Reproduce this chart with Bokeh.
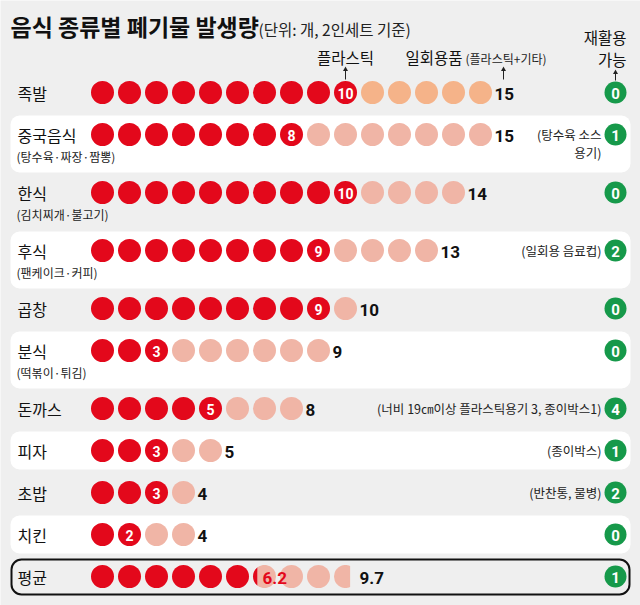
import math
from bokeh.plotting import figure
from bokeh.models import ColumnDataSource, Range1d, BoxAnnotation
from bokeh.core.properties import value
from bokeh.embed import file_html
from bokeh.resources import INLINE

# data
categories = ["족발", "중국음식", "한식", "후식", "곱창", "분식", "돈까스", "피자", "초밥", "치킨", "평균"]
subtitles = ["", "(탕수육·짜장·짬뽕)", "(김치찌개·불고기)", "(팬케이크·커피)", "", "(떡볶이·튀김)",
             "", "", "", "", ""]
plastic = [10, 8, 10, 9, 9, 3, 5, 3, 3, 2, 6.2]
disposable = [15, 15, 14, 13, 10, 9, 8, 5, 4, 4, 9.7]
recyclable = [0, 1, 0, 2, 0, 0, 4, 1, 2, 0, 1]
notes = [[], ["(탕수육 소스", "용기)"], [], ["(일회용 음료컵)"], [], [],
         ["(너비 19㎝이상 플라스틱용기 3, 종이박스1)"], ["(종이박스)"], ["(반찬통, 물병)"], [], []]

# styles / layout
KR = "Noto Sans CJK KR"
NUM = "Roboto"
RED = "#e3081b"
LIGHT = "#f0b5a6"
PEACH = "#f5b389"
GREEN = "#16994a"
BG = "#efefef"
X0, STEP, R = 102, 27, 11.5
GX = 615

p = figure(width=640, height=605, output_backend="svg", toolbar_location=None,
           x_range=Range1d(0, 640), y_range=Range1d(605, 0), min_border=0)
p.axis.visible = False
p.grid.visible = False
p.outline_line_color = None
p.background_fill_color = BG
p.border_fill_color = BG

# row centres
ys = []
y = 92
for s in subtitles:
    ys.append(y)
    y += 58 if s else 42

# row bands
for i, yc in enumerate(ys):
    if i == len(ys) - 1:
        p.add_layout(BoxAnnotation(left=11, right=629, top=yc - 17, bottom=yc + 18,
                                   fill_color=BG, fill_alpha=1, line_color="#111111",
                                   line_alpha=1, line_width=2, border_radius=10,
                                   level="underlay"))
    elif i % 2 == 1:
        p.add_layout(BoxAnnotation(left=10, right=630, top=yc - 19,
                                   bottom=yc + (38 if subtitles[i] else 19),
                                   fill_color="white", fill_alpha=1, line_color=None,
                                   border_radius=9, level="underlay"))

# dots
full = dict(x=[], y=[], c=[])
parts = dict(xs=[], ys=[], c=[])


def segment(cx, cy, a, b):
    xa = cx - R + 2 * R * a
    xb = cx - R + 2 * R * b
    n = 24
    xs_top = [xa + (xb - xa) * k / n for k in range(n + 1)]
    top = [cy - math.sqrt(max(R * R - (x - cx) ** 2, 0)) for x in xs_top]
    bot = [cy + math.sqrt(max(R * R - (x - cx) ** 2, 0)) for x in xs_top]
    return xs_top + xs_top[::-1], top + bot[::-1]


for i, yc in enumerate(ys):
    light = PEACH if i == 0 else LIGHT
    n = math.ceil(disposable[i])
    for k in range(n):
        cx = X0 + k * STEP
        rf = min(max(plastic[i] - k, 0), 1)
        tf = min(max(disposable[i] - k, 0), 1)
        if rf >= 1:
            full["x"].append(cx); full["y"].append(yc); full["c"].append(RED)
        elif rf <= 0 and tf >= 1:
            full["x"].append(cx); full["y"].append(yc); full["c"].append(light)
        else:
            if rf > 0:
                sx, sy = segment(cx, yc, 0, rf)
                parts["xs"].append(sx); parts["ys"].append(sy); parts["c"].append(RED)
            sx, sy = segment(cx, yc, rf, tf)
            parts["xs"].append(sx); parts["ys"].append(sy); parts["c"].append(light)

p.circle(x="x", y="y", radius=R, fill_color="c", line_color=None, source=ColumnDataSource(full))
p.patches(xs="xs", ys="ys", fill_color="c", line_color=None, source=ColumnDataSource(parts))

# number in the last plastic dot
inner = dict(x=[], y=[], t=[])
redtxt = dict(x=[], y=[], t=[])
for i, yc in enumerate(ys):
    if float(plastic[i]).is_integer():
        inner["x"].append(X0 + (int(plastic[i]) - 1) * STEP)
        inner["y"].append(yc + 1)
        inner["t"].append(str(int(plastic[i])))
    else:
        redtxt["x"].append(X0 + int(plastic[i]) * STEP - 2)
        redtxt["y"].append(yc + 1)
        redtxt["t"].append(str(plastic[i]))
p.text(x="x", y="y", text="t", source=ColumnDataSource(inner), text_color="white",
       text_font=value(NUM), text_font_style="bold", text_font_size="14px",
       text_align="center", text_baseline="middle")
p.text(x="x", y="y", text="t", source=ColumnDataSource(redtxt), text_color=RED,
       text_font=value(NUM), text_font_style="bold", text_font_size="17px",
       text_align="left", text_baseline="middle")

# totals
tot = dict(x=[X0 + (math.ceil(d) - 1) * STEP + 14 for d in disposable], y=[yc + 1 for yc in ys],
           t=[str(d) for d in disposable])
p.text(x="x", y="y", text="t", source=ColumnDataSource(tot), text_color="#111111",
       text_font=value(NUM), text_font_style="bold", text_font_size="17px",
       text_baseline="middle")

# recyclable
p.circle(x=[GX] * len(ys), y=ys, radius=11, fill_color=GREEN, line_color=None)
p.text(x=[GX] * len(ys), y=[yc + 1 for yc in ys], text=[str(v) for v in recyclable],
       text_color="white", text_font=value(NUM), text_font_style="bold", text_font_size="15px",
       text_align="center", text_baseline="middle")

# notes
nx, ny, nt = [], [], []
for i, yc in enumerate(ys):
    for j, line in enumerate(notes[i]):
        nx.append(601); ny.append(yc + j * 18); nt.append(line)
p.text(x=nx, y=ny, text=nt, text_color="#222222", text_font=value(KR), text_font_size="12.5px",
       text_align="right", text_baseline="middle")

# category labels
p.text(x=[17] * len(ys), y=ys, text=categories, text_color="#111111", text_font=value(KR),
       text_font_size="16px", text_baseline="middle")
sx_, sy_, st_ = [], [], []
for i, yc in enumerate(ys):
    if subtitles[i]:
        sx_.append(16); sy_.append(yc + 22); st_.append(subtitles[i])
p.text(x=sx_, y=sy_, text=st_, text_color="#222222", text_font=value(KR),
       text_font_size="12px", text_baseline="middle")

# title
p.text(x=[10], y=[25], text=["음식 종류별 폐기물 발생량"], text_color="#111111",
       text_font=value(KR), text_font_style="bold", text_font_size="23px", text_baseline="middle")
p.text(x=[258], y=[28], text=["(단위: 개, 2인세트 기준)"], text_color="#222222",
       text_font=value(KR), text_font_size="15.5px", text_baseline="middle")

# column headers and arrows
px = X0 + (plastic[0] - 1) * STEP
dx = tot["x"][0] + 9
p.text(x=[px], y=[56], text=["플라스틱"], text_color="#111111", text_font=value(KR),
       text_font_size="15.5px", text_align="center", text_baseline="middle")
p.text(x=[405], y=[56], text=["일회용품"], text_color="#111111", text_font=value(KR),
       text_font_size="15.5px", text_baseline="middle")
p.text(x=[465], y=[58], text=["(플라스틱+기타)"], text_color="#222222", text_font=value(KR),
       text_font_size="12px", text_baseline="middle")
p.text(x=[626, 626], y=[36, 58], text=["재활용", "가능"], text_color="#111111",
       text_font=value(KR), text_font_size="15.5px", text_align="right", text_baseline="middle")
ax = [px, dx, GX]
p.segment(x0=ax, y0=[79, 79, 80], x1=ax, y1=[69, 69, 72], line_color="#222222", line_width=1)
p.scatter(x=ax, y=[69, 69, 72], marker="triangle", size=5, fill_color="#222222", line_color=None)

open("out.html", "w").write(file_html(p, INLINE))
